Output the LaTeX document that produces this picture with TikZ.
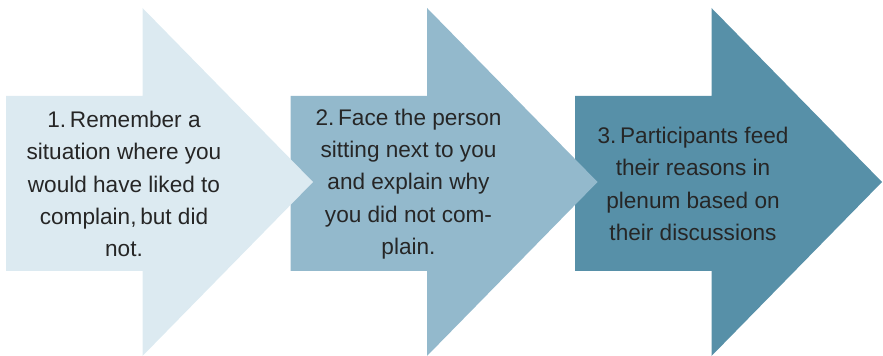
\documentclass[tikz,border=0pt]{standalone}
\usepackage{fontspec}
\setmainfont{Liberation Sans}
\frenchspacing
\definecolor{pale}{HTML}{DCEAF1}
\definecolor{mid}{HTML}{93B9CC}
\definecolor{deep}{HTML}{5790A8}
\definecolor{ink}{HTML}{262626}
\tikzset{steptext/.style={text=ink, align=center, inner sep=0pt, font=\fontsize{11.3}{16.2}\selectfont}}

\begin{document}
\begin{tikzpicture}[x=0.5pt, y=-0.5pt]
	\useasboundingbox (0, 0) rectangle (883, 356);
	%arrows, the last one first so each tip lies on the next body
	\foreach \n/\col in {2/deep, 1/mid, 0/pale}
		\fill[\col, xshift = \n*142.25pt] (6, 96) -- (142.5, 96) -- (142.5, 8) -- (313, 182)
			-- (142.5, 356) -- (142.5, 271) -- (6, 271) -- cycle;
	%texts
	\node[steptext] (step1) at (124, 184) {1.\,Remember a\\situation where you\\would have liked to\\complain,\,but did\\not.};
	\node[steptext] (step2) at (408.5, 184) {2.\,Face the person\\sitting next to you\\and explain why\\you did not com-\\plain.};
	\node[steptext] (step3) at (693, 184) {3.\,Participants feed\\their reasons in\\plenum based on\\their discussions};
\end{tikzpicture}
\end{document}
